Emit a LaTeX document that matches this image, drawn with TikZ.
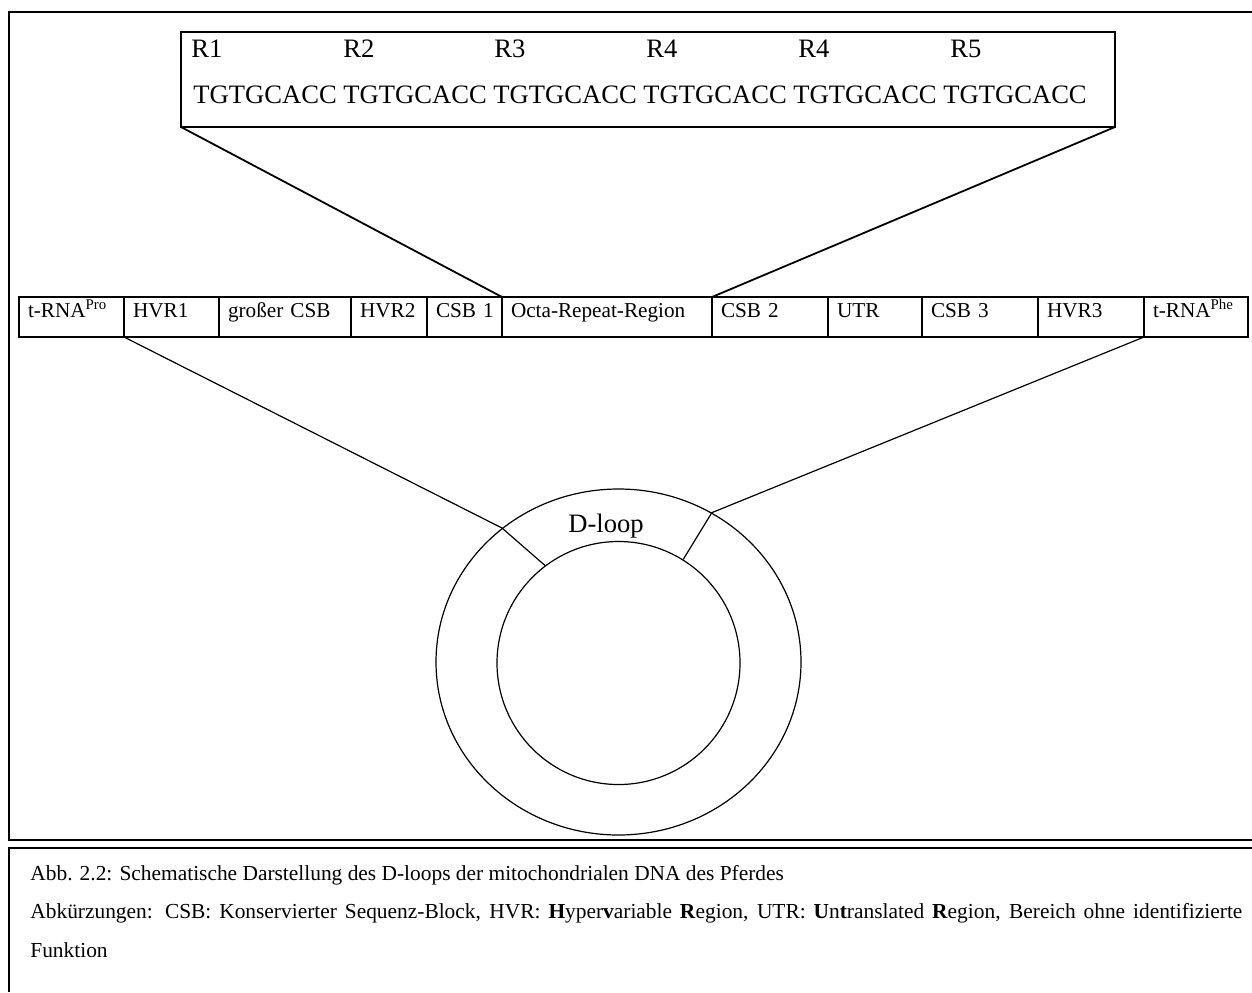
\documentclass[tikz,border=0pt]{standalone}
\usepackage{fontspec}
\setmainfont{Liberation Serif}
\usetikzlibrary{positioning,shapes.geometric}

\begin{document}
\begin{tikzpicture}[
  x=0.5pt, y=-0.5pt,
  node distance=0pt,
  seg/.style={draw, line width=1pt, outer sep=0pt, inner xsep=4.5pt, inner ysep=0pt,
              text width=#1, align=left, text height=10pt, text depth=10pt,
              font=\fontsize{10.6pt}{12pt}\selectfont},
  rep/.style={anchor=base west, inner sep=0pt, font=\fontsize{13.3pt}{16pt}\selectfont},
  thin/.style={line width=0.6pt},
  link/.style={line width=0.9pt}]
\useasboundingbox (0,0) rectangle (1252,992);
\draw[line width=1pt] (1252,12) -- (8.5,12) -- (8.5,840) -- (1252,840);
\draw[line width=1pt] (1252,848) -- (9,848) -- (9,992);

\node[draw, line width=1.2pt, minimum width=467pt, minimum height=47.5pt,
      anchor=north west, inner sep=0pt, outer sep=0pt] (repbox) at (181,32) {};
\node[rep] (ra) at (191,57) {R1};
\node[rep] (rb) at (343,57) {R2};
\node[rep] (rc) at (494,57) {R3};
\node[rep] (rd) at (646,57) {R4};
\node[rep] (re) at (798,57) {R4};
\node[rep] (rf) at (950,57) {R5};
\node[rep] (seq) at (193,103) {TGTGCACC TGTGCACC TGTGCACC TGTGCACC TGTGCACC TGTGCACC};

\node[seg=43.5pt, anchor=north west] (trnapro) at (19,297) {t-RNA\textsuperscript{Pro}};
\node[seg=38.5pt, right=of trnapro] (hvra) {HVR1};
\node[seg=57pt, right=of hvra] (grosser) {großer CSB};
\node[seg=29pt, right=of grosser] (hvrb) {HVR2};
\node[seg=28.5pt, right=of hvrb] (csba) {CSB~1};
\node[seg=96pt, right=of csba] (octa) {Octa-Repeat-Region};
\node[seg=49pt, right=of octa] (csbb) {CSB~2};
\node[seg=38pt, right=of csbb] (utr) {UTR};
\node[seg=49pt, right=of utr] (csbc) {CSB~3};
\node[seg=44pt, right=of csbc] (hvrc) {HVR3};
\node[seg=43pt, right=of hvrc] (trnaphe) {t-RNA\textsuperscript{Phe}};

\node[draw, thin, ellipse, minimum width=182.5pt, minimum height=173pt, inner sep=0pt] (outer) at (618.5,662) {};
\node[draw, thin, circle, minimum size=121.5pt, inner sep=0pt] (inner) at (618.5,663) {};
\node[anchor=base, inner sep=0pt, font=\fontsize{13.3pt}{16pt}\selectfont] (dloop) at (606,532) {D-loop};

\draw[link] (repbox.south west) -- (octa.north west);
\draw[link] (repbox.south east) -- (octa.north east);
\draw[thin] (hvra.south west) -- (outer.131) -- (inner.127);
\draw[thin] (trnaphe.south west) -- (outer.58) -- (inner.58);

\node[anchor=north west, inner sep=0pt, text width=606pt, align=justify,
      font=\fontsize{10.7pt}{19.25pt}\selectfont] (caption) at (30,865)
  {Abb. 2.2: Schematische Darstellung des D-loops der mitochondrialen DNA des Pferdes\\
   Abkürzungen: CSB: Konservierter Sequenz-Block, HVR: \textbf{H}yper\textbf{v}ariable \textbf{R}egion,
   UTR: \textbf{U}n\textbf{t}ranslated \textbf{R}egion, Bereich ohne identifizierte\linebreak Funktion};
\end{tikzpicture}
\end{document}
